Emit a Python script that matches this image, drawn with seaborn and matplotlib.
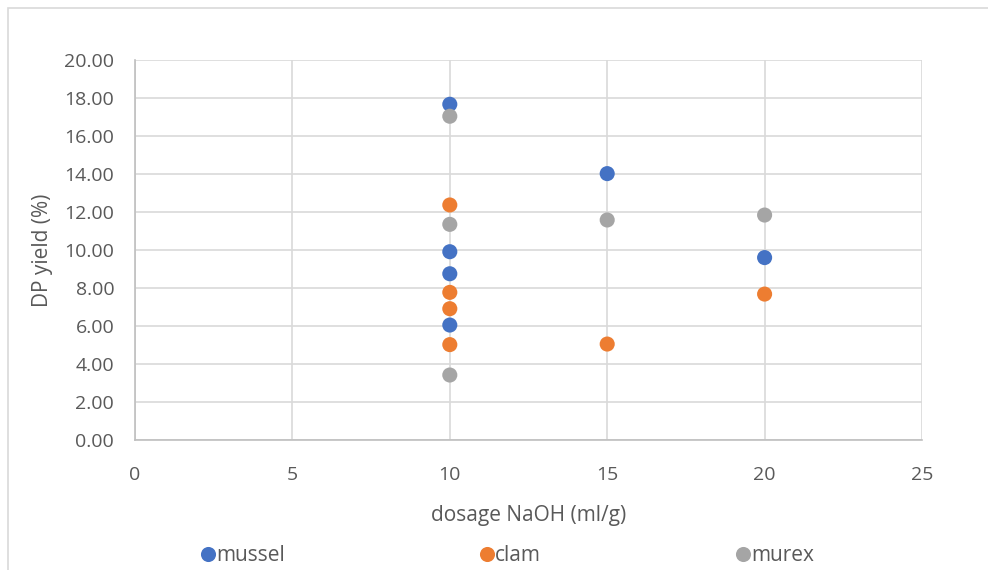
import matplotlib
matplotlib.use("Agg")
import matplotlib.pyplot as plt
import seaborn as sns
import pandas as pd
from matplotlib.patches import Rectangle

sns.set_theme(style="white")
plt.rcParams['font.family'] = ['Open Sans', 'DejaVu Sans']

series_names = ["mussel", "clam", "murex"]
mussel_x = [10, 10, 10, 10, 15, 20]
mussel_y = [17.67, 9.91, 8.75, 6.05, 14.02, 9.60]
clam_x = [10, 10, 10, 10, 15, 20]
clam_y = [12.37, 7.77, 6.91, 5.02, 5.05, 7.68]
murex_x = [10, 10, 10, 15, 20]
murex_y = [17.04, 11.35, 3.42, 11.58, 11.84]
colors = ["#4472C4", "#ED7D31", "#A5A5A5"]
x_ticks = [0, 5, 10, 15, 20, 25]
y_ticks = [0, 2, 4, 6, 8, 10, 12, 14, 16, 18, 20]

df = pd.concat([
    pd.DataFrame({"x": mussel_x, "y": mussel_y, "s": "mussel"}),
    pd.DataFrame({"x": clam_x, "y": clam_y, "s": "clam"}),
    pd.DataFrame({"x": murex_x, "y": murex_y, "s": "murex"}),
], ignore_index=True)

W, H = 988, 570
fig = plt.figure(figsize=(W / 100, H / 100), dpi=100)
ax = fig.add_axes([135 / W, 1 - 440 / H, (922 - 135) / W, (440 - 60) / H])

# chart-area border
fig.patches.append(Rectangle((8 / W, -0.05), 1.2, (1 - 7.5 / H) + 0.05,
                             transform=fig.transFigure, fill=False,
                             edgecolor="#D9D9D9", linewidth=1.2))

sns.scatterplot(data=df, x="x", y="y", hue="s", hue_order=series_names,
                palette=colors, s=118, edgecolor="none", linewidth=0,
                ax=ax, zorder=3, legend=True)

ax.set_xlim(0, 25)
ax.set_ylim(0, 20)
ax.set_xticks(x_ticks)
ax.set_yticks(y_ticks)
ax.set_yticklabels([f"{v:.2f}" for v in y_ticks])
ax.grid(True, color="#D9D9D9", linewidth=1.2, zorder=0)
ax.set_axisbelow(True)
for side in ["top", "right"]:
    ax.spines[side].set_visible(False)
for side in ["left", "bottom"]:
    ax.spines[side].set_color("#BFBFBF")
    ax.spines[side].set_linewidth(1.2)
ax.tick_params(axis="both", length=0, labelsize=14, labelcolor="#595959")
ax.tick_params(axis="x", pad=18.5)
ax.tick_params(axis="y", pad=15)

ax.set_xlabel("dosage NaOH (ml/g)", fontsize=15, color="#595959", labelpad=15)
ax.set_ylabel("DP yield (%)", fontsize=15, color="#595959", labelpad=8)

handles, labels = ax.get_legend_handles_labels()
ax.get_legend().remove()
leg = fig.legend(handles, labels, loc="center", bbox_to_anchor=(0.5142, 1 - 555.5 / H),
                 ncol=3, frameon=False, fontsize=15, columnspacing=9.4,
                 handlelength=0.6, handletextpad=0.1, markerscale=1.0,
                 labelcolor="#595959")

fig.savefig("out.png", dpi=100)
